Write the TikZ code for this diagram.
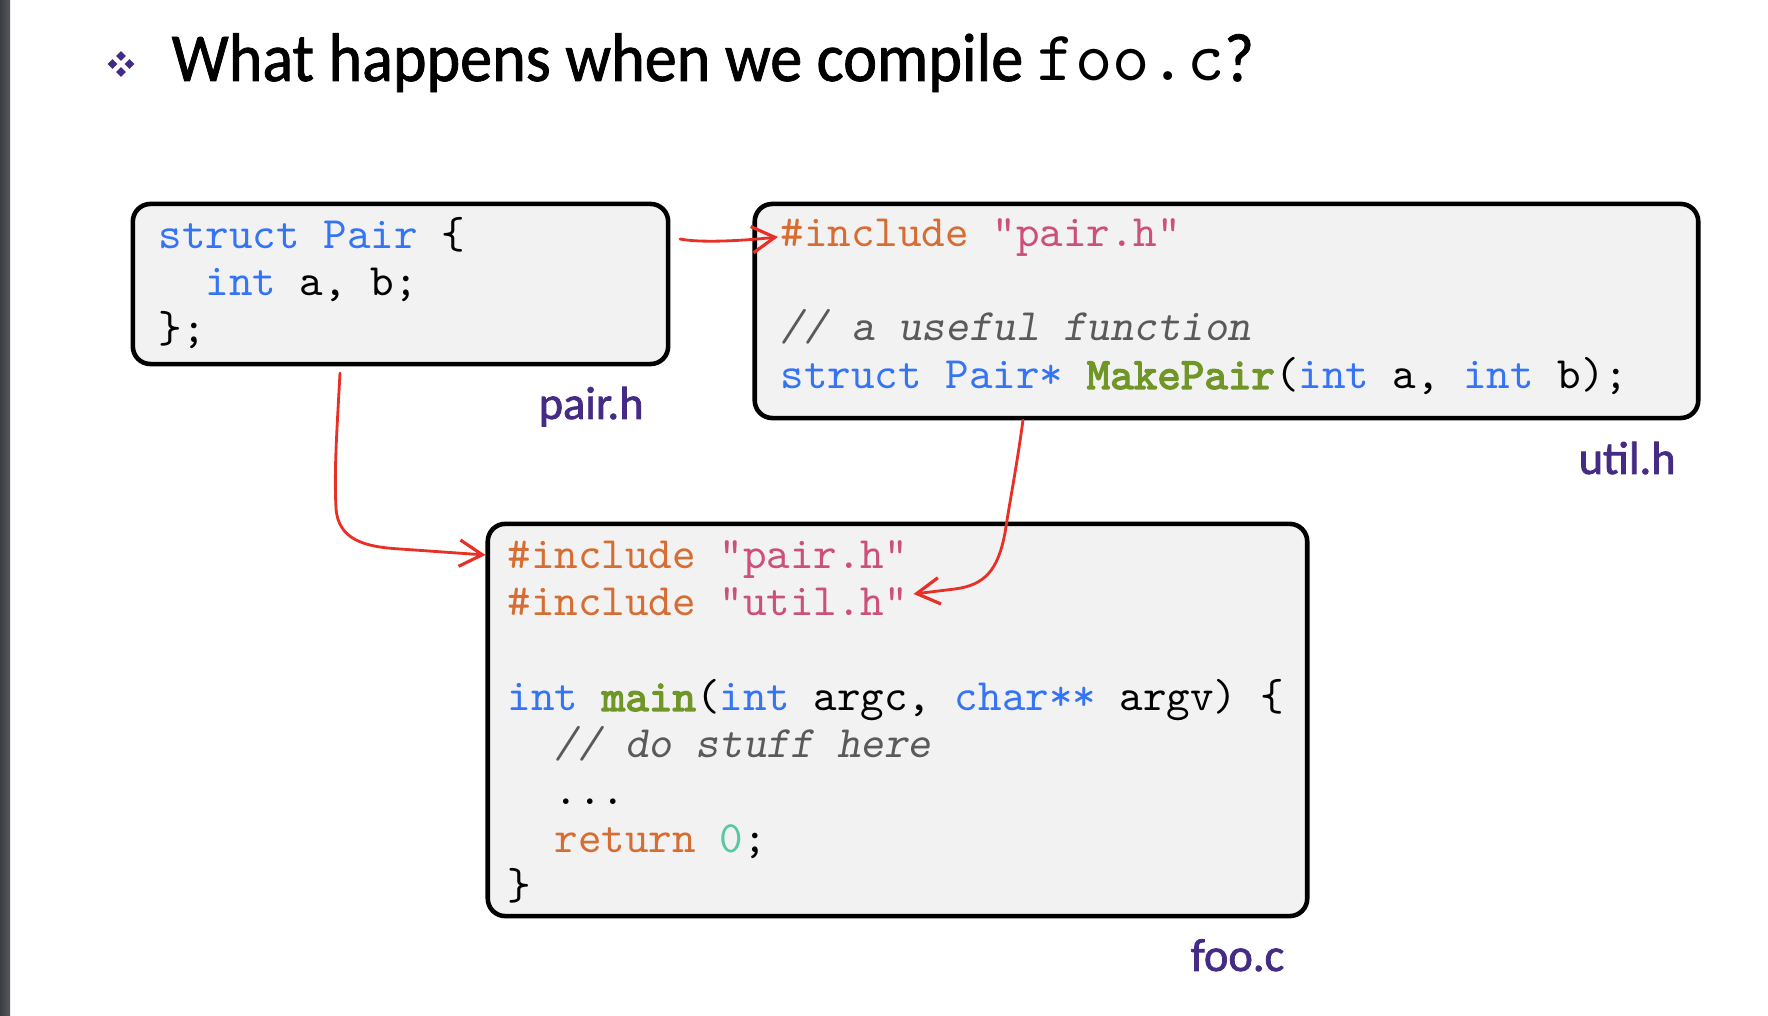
\documentclass[tikz,border=0pt]{standalone}
\usepackage{fontspec}
\setmainfont{Carlito}
\setmonofont{lmmono10-regular}[Extension=.otf,
  ItalicFont=lmmonoslant10-regular, BoldFont=lmmono10-regular,
  BoldFeatures={FakeBold=3}]
\newfontfamily\headfont{Carlito}[FakeStretch=0.935, FakeBold=1.2]
\newfontfamily\tagfont{Carlito}[FakeBold=1.6]
\usetikzlibrary{arrows.meta,calc}

\definecolor{boxgray}{HTML}{F2F2F2}
\definecolor{kwblue}{RGB}{52,116,245}
\definecolor{pporange}{RGB}{214,110,52}
\definecolor{strpink}{RGB}{204,80,122}
\definecolor{fngreen}{RGB}{112,150,40}
\definecolor{cmgray}{RGB}{90,90,90}
\definecolor{numteal}{RGB}{88,200,160}
\definecolor{labelpurple}{RGB}{68,44,132}
\definecolor{arrowred}{RGB}{232,48,38}
\definecolor{bardark}{RGB}{58,61,66}
\definecolor{barlight}{RGB}{86,89,94}

% syntax colouring helpers
\newcommand{\kw}[1]{\textcolor{kwblue}{#1}}
\newcommand{\pp}[1]{\textcolor{pporange}{#1}}
\newcommand{\str}[1]{\textcolor{strpink}{#1}}
\newcommand{\fn}[1]{\textcolor{fngreen}{\bfseries #1}}
\newcommand{\cm}[1]{\textcolor{cmgray}{\itshape #1}}
\newcommand{\num}[1]{\textcolor{numteal}{#1}}

\newcommand{\codefont}{\ttfamily\fontsize{12.75pt}{15pt}\selectfont}
\newcommand{\labelfont}{\tagfont\fontsize{13.2pt}{15pt}\selectfont}
\newcommand{\titlefont}{\headfont\fontsize{19.5pt}{22pt}\selectfont}

\tikzset{
  codebox/.style={draw=black, line width=1.3pt, fill=boxgray,
    rounded corners=5pt, inner sep=0pt},
  codeline/.style={anchor=base west, inner sep=0pt, font=\codefont},
  filelabel/.style={anchor=base west, inner sep=0pt, font=\labelfont,
    text=labelpurple},
  include/.style={draw=arrowred, line width=0.8pt, line cap=round,
    -{Straight Barb[length=6.5pt,width=7.5pt,line width=0.9pt]}},
}

\begin{document}
\begin{tikzpicture}[x=0.01cm,y=-0.01cm]
\useasboundingbox (0,0) rectangle (1768,1016);

% slide edge
\shade[left color=bardark, right color=barlight] (0,0) rectangle (10,1016);

% bullet and heading
\foreach \dx/\dy in {0/-8, -8.5/0, 8.5/0, 0/8}
  \fill[labelpurple] ($(121,64)+(\dx,\dy)$) ++(-4.8,0) -- ++(4.8,-4.8)
    -- ++(4.8,4.8) -- ++(-4.8,4.8) -- cycle;
\node[anchor=base west, inner sep=0pt, font=\titlefont] (title) at (171,81)
  {What happens when we compile {\ttfamily\fontsize{20.2pt}{22pt}\selectfont foo.c}?};

% the three source files
\node[codebox, minimum width=5.35cm, minimum height=1.6cm] (pairbox) at (400.5,284) {};
\node[codebox, minimum width=9.43cm, minimum height=2.14cm] (utilbox) at (1226.5,311) {};
\node[codebox, minimum width=8.19cm, minimum height=3.92cm] (foobox) at (897.5,720) {};

% pair.h
\node[codeline] (p1) at (158,249) {\kw{struct Pair} \{};
\node[codeline] (p2) at (205,296) {\kw{int} a, b;};
\node[codeline] (p3) at (158,343) {\};};
\node[filelabel] (pairlabel) at (538,419) {pair.h};

% util.h
\node[codeline] (u1) at (780,247) {\pp{\#include} \str{"pair.h"}};
\node[codeline] (u2) at (780,341) {\cm{// a useful function}};
\node[codeline] (u3) at (780,389)
  {\kw{struct Pair*} \fn{MakePair}(\kw{int} a, \kw{int} b);};
\node[filelabel] (utillabel) at (1578,474) {util.h};

% foo.c
\node[codeline] (f1) at (507,569) {\pp{\#include} \str{"pair.h"}};
\node[codeline] (f2) at (507,616) {\pp{\#include} \str{"util.h"}};
\node[codeline] (f3) at (507,711)
  {\kw{int} \fn{main}(\kw{int} argc, \kw{char**} argv) \{};
\node[codeline] (f4) at (554,758) {\cm{// do stuff here}};
\node[codeline] (f5) at (554,805) {...};
\node[codeline] (f6) at (554,853) {\pp{return} \num{0};};
\node[codeline] (f7) at (507,900) {\}};
\node[filelabel] (foolabel) at (1190,971) {foo.c};

% include arrows
\coordinate (pairout) at (680,239);
\coordinate (pairdown) at (340,373);
\coordinate (utildown) at (1023,420);
\coordinate (pairin) at ($(u1.base west)+(-2,-10)$);
\coordinate (fooin) at ($(foobox.west)+(0,-165)$);
\coordinate (utilin) at ($(f2.base east)+(5,-22)$);

\draw[include] (pairout) .. controls (700,243) and (740,241) .. (pairin);
\draw[include] (pairdown) .. controls (337,430) and (334,470) .. (336,508)
  .. controls (338,540) and (365,547) .. (400,549) -- (fooin);
\draw[include] (utildown) .. controls (1017,465) and (1010,500) .. (1005,533)
  .. controls (998,570) and (985,585) .. (955,589) -- (utilin);
\end{tikzpicture}
\end{document}
